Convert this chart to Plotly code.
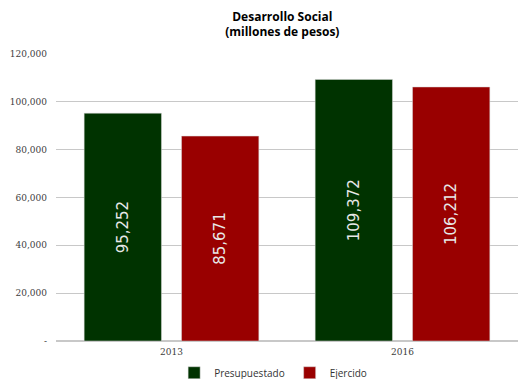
import plotly.graph_objects as go

years = ["2013", "2016"]
presupuestado = [95252, 109372]
ejercido = [85671, 106212]
tick_vals = [0, 20000, 40000, 60000, 80000, 100000, 120000]
tick_text = ["-", "20,000", "40,000", "60,000", "80,000", "100,000", "120,000"]

fig = go.Figure()
fig.add_trace(go.Bar(
    x=years, y=presupuestado, name="Presupuestado",
    marker=dict(color="#003300", line=dict(color="#d9d9d9", width=0.5)),
    text=[f"{v:,}" for v in presupuestado], textposition="inside",
    textangle=-90, insidetextanchor="middle",
    textfont=dict(color="#e8e8e8", size=15, family="DejaVu Sans"),
))
fig.add_trace(go.Bar(
    x=years, y=ejercido, name="Ejercido",
    marker=dict(color="#990000", line=dict(color="#d9d9d9", width=0.5)),
    text=[f"{v:,}" for v in ejercido], textposition="inside",
    textangle=-90, insidetextanchor="middle",
    textfont=dict(color="#e8e8e8", size=15, family="DejaVu Sans"),
))

fig.update_layout(
    width=518, height=379,
    margin=dict(l=56, r=0, t=54, b=38, autoexpand=False),
    paper_bgcolor="white", plot_bgcolor="white",
    barmode="group", bargap=0.157, bargroupgap=0.206,
    title=dict(text="<b>Desarrollo Social<br>(millones de pesos)</b>",
               x=0.545, xanchor="center", y=0.945, yanchor="top",
               font=dict(size=12, family="Open Sans", color="#000000")),
    showlegend=True,
    legend=dict(orientation="h", x=0.47, xanchor="center", y=-0.06, yanchor="top",
                font=dict(size=10, family="Open Sans", color="#333333"),
                itemwidth=30, traceorder="normal", tracegroupgap=0),
    uniformtext=dict(mode="show", minsize=8),
)
fig.update_yaxes(range=[0, 120000], tickvals=tick_vals, ticktext=tick_text,
                 showgrid=True, gridcolor="#c8c8c8", gridwidth=1,
                 zeroline=True, zerolinecolor="#c8c8c8",
                 tickfont=dict(size=9, family="DejaVu Serif", color="#404040"),
                 ticks="", ticklen=0, ticklabelstandoff=8)
fig.update_xaxes(showline=False, tickfont=dict(size=9, family="DejaVu Serif", color="#404040"),
                 ticks="", ticklabelstandoff=4)

fig.write_html("out.html", config={"displayModeBar": False},
               post_script="document.body.style.margin='0';document.body.style.overflow='hidden';")
